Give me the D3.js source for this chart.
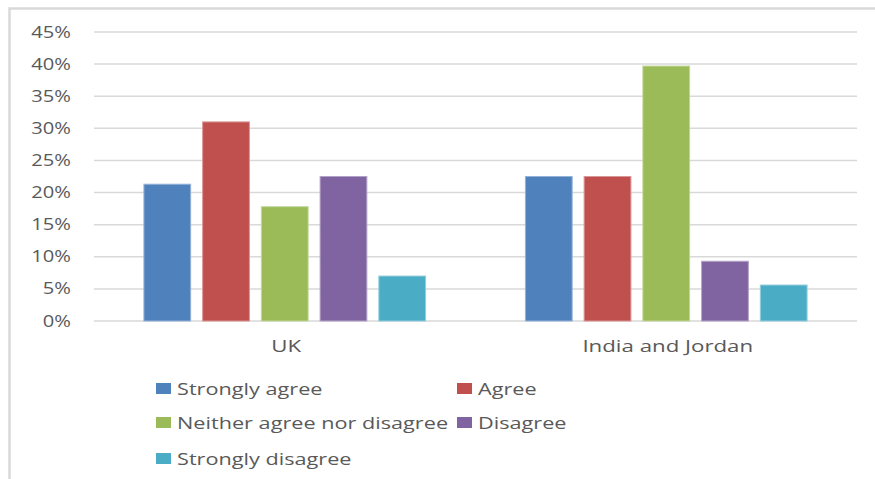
<!DOCTYPE html>
<html>
<head>
<meta charset="utf-8">
<script src="https://cdn.jsdelivr.net/npm/d3@7"></script>
<style>
  html, body { margin: 0; padding: 0; background: #fff; }
  svg { display: block; }
  text { font-family: "Open Sans", "DejaVu Sans", sans-serif; fill: #595959; }
</style>
</head>
<body>
<svg id="chart" width="875" height="479"></svg>
<script>
// Survey response shares by region
const categories = ["UK", "India and Jordan"];
const seriesNames = ["Strongly agree", "Agree", "Neither agree nor disagree", "Disagree", "Strongly disagree"];
const seriesColors = ["#4F81BD", "#C0504D", "#9BBB59", "#8064A2", "#4BACC6"];
const ukValues = [0.213, 0.310, 0.178, 0.225, 0.070];
const indiaJordanValues = [0.225, 0.225, 0.397, 0.093, 0.056];
const yTicks = [0, 0.05, 0.10, 0.15, 0.20, 0.25, 0.30, 0.35, 0.40, 0.45];

const valuesByCategory = [ukValues, indiaJordanValues];
const rows = categories.map((c, i) => ({
  category: c,
  values: seriesNames.map((s, j) => ({ series: s, value: valuesByCategory[i][j], color: seriesColors[j] }))
}));

const svg = d3.select("#chart");
const plot = { left: 94, right: 857, top: 32, bottom: 321 };

// outer frame
svg.append("rect")
  .attr("x", 9.5).attr("y", 8.5)
  .attr("width", 900).attr("height", 500)
  .attr("fill", "none").attr("stroke", "#d9d9d9").attr("stroke-width", 2.5);

const y = d3.scaleLinear().domain([0, 0.45]).range([plot.bottom, plot.top]);
const x0 = d3.scaleBand().domain(categories).range([plot.left, plot.right]).paddingInner(0).paddingOuter(0);
const x1 = d3.scaleBand().domain(seriesNames).range([0, x0.bandwidth()]).paddingInner(0.204).paddingOuter(0.85);

// text with a wide horizontal stretch
function stretchedText(sel, x, yy, anchor, sx) {
  return sel.append("text")
    .attr("transform", `translate(${x},${yy}) scale(${sx},1)`)
    .attr("text-anchor", anchor);
}

// gridlines
svg.append("g").selectAll("line")
  .data(yTicks)
  .join("line")
  .attr("x1", plot.left).attr("x2", plot.right)
  .attr("y1", d => y(d)).attr("y2", d => y(d))
  .attr("stroke", "#d9d9d9").attr("stroke-width", 1.5);

// y tick labels
const fmt = d3.format(".0%");
const yLab = svg.append("g");
yTicks.forEach(t => {
  stretchedText(yLab, 71, y(t) + 5.5, "end", 1.3)
    .style("font-size", "15.5px")
    .text(fmt(t));
});

// bars
const groups = svg.append("g").selectAll("g")
  .data(rows)
  .join("g")
  .attr("transform", d => `translate(${x0(d.category)},0)`);

groups.selectAll("rect")
  .data(d => d.values)
  .join("rect")
  .attr("x", d => x1(d.series))
  .attr("width", x1.bandwidth())
  .attr("y", d => y(d.value))
  .attr("height", d => y(0) - y(d.value))
  .attr("fill", d => d.color)
  .attr("stroke", d => d3.interpolateRgb(d.color, "#ffffff")(0.4))
  .attr("stroke-width", 1);

// category labels
const xLab = svg.append("g");
categories.forEach(c => {
  stretchedText(xLab, x0(c) + x0.bandwidth() / 2 + 1.5, 352, "middle", 1.31)
    .style("font-size", "17px")
    .text(c);
});

// legend
const legendCols = [156, 457];
const legendRows = [389, 423, 459];
const legend = svg.append("g");
seriesNames.forEach((s, i) => {
  const cx = legendCols[i % 2];
  const cy = legendRows[Math.floor(i / 2)];
  legend.append("rect")
    .attr("x", cx).attr("y", cy - 6)
    .attr("width", 15).attr("height", 11)
    .attr("fill", seriesColors[i]);
  stretchedText(legend, cx + 21, cy + 6, "start", 1.275)
    .style("font-size", "17px")
    .text(s);
});
</script>
</body>
</html>
